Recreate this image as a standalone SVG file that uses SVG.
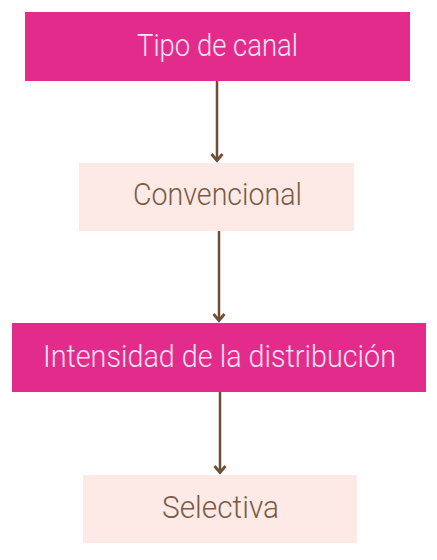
<svg xmlns="http://www.w3.org/2000/svg" width="437" height="560" viewBox="0 0 437 560">
<defs>
<style>
.dark rect{fill:#E32B8B}
.light rect{fill:#FDEAE7}
.dark text{fill:#FCE3F1;font-family:Roboto,"Liberation Sans",sans-serif;font-size:31px;font-weight:300;text-anchor:middle}
.light text{fill:#7A5B44;font-family:Roboto,"Liberation Sans",sans-serif;font-size:31px;font-weight:300;text-anchor:middle}
.conn line{stroke:#6E4F36;stroke-width:2.5;fill:none}
.conn path{stroke:#6E4F36;stroke-width:2.8;fill:none}
</style>
</defs>
<rect width="437" height="560" fill="#FFFFFF"/>
<g id="n1" class="dark">
<rect x="25" y="12" width="385" height="69"/>
<text x="217.5" y="55.5" textLength="161" lengthAdjust="spacingAndGlyphs">Tipo de canal</text>
</g>
<g id="n2" class="light">
<rect x="79" y="163" width="275" height="68"/>
<text x="217.5" y="204.5" textLength="169" lengthAdjust="spacingAndGlyphs">Convencional</text>
</g>
<g id="n3" class="dark">
<rect x="12" y="323" width="414" height="69"/>
<text x="219.5" y="366.5" textLength="353" lengthAdjust="spacingAndGlyphs">Intensidad de la distribución</text>
</g>
<g id="n4" class="light">
<rect x="83" y="475" width="274" height="68"/>
<text x="220.5" y="517.5" textLength="117" lengthAdjust="spacingAndGlyphs">Selectiva</text>
</g>
<g id="connectors" class="conn">
<line x1="217" y1="81" x2="217" y2="160"/>
<path d="M211.5 154 L217 160.5 L222.5 154"/>
<line x1="219" y1="231" x2="219" y2="320"/>
<path d="M213.5 314 L219 320.5 L224.5 314"/>
<line x1="220" y1="392" x2="220" y2="472"/>
<path d="M214.5 466 L220 472.5 L225.5 466"/>
</g>
</svg>
